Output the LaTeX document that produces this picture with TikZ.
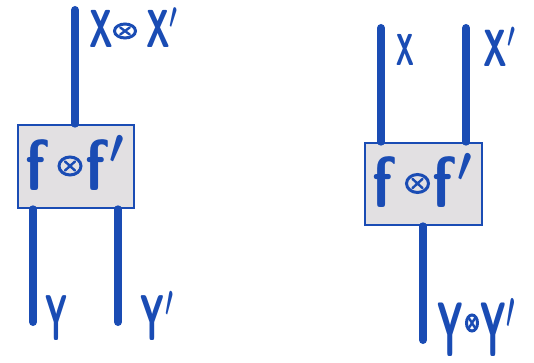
\documentclass[tikz,border=0pt]{standalone}
\usepackage{graphicx}
\definecolor{ink}{RGB}{26,76,180}
\definecolor{boxfill}{RGB}{226,224,226}
\tikzset{
  wire/.style={ink, line width=8pt, line cap=round},
  morph/.style={draw=ink, line width=2.6pt, fill=boxfill, inner sep=0pt},
  lbl/.style={text=ink, inner sep=1pt, font=\fontsize{24}{28}\selectfont\boldmath},
  glyph/.style={text=ink, inner sep=0pt, anchor=base west, font=\fontsize{24}{28}\selectfont\boldmath},
  ring/.style={draw=ink, line width=3pt},
  cross/.style={draw=ink, line width=2.4pt, line cap=round},
}
% stretched sans letters
\newcommand{\hw}[3]{\scalebox{#1}[#2]{$\mathsf{#3}$}}
% hand-drawn tensor sign: centre x, centre y, half width, half height (pt)
\newcommand{\tensor}[4]{%
  \path[ring] (#1,#2) ellipse [x radius=#3pt, y radius=#4pt];
  \path[cross] ({#1-0.45*#3},{#2-0.5*#4}) -- ({#1+0.45*#3},{#2+0.5*#4})
               ({#1-0.45*#3},{#2+0.5*#4}) -- ({#1+0.45*#3},{#2-0.5*#4});}
\begin{document}
\begin{tikzpicture}[x=1pt, y=-1pt]
  \useasboundingbox (0,0) rectangle (534,363);

  % left: f (x) f' with one input wire and two output wires
  \node[morph, minimum width=116pt, minimum height=83pt] (lbox) at (76,166.5) {};
  \node[glyph] (lf1) at (25,190) {\hw{2.4}{2.9}{f}};
  \tensor{70}{166}{11}{9}
  \node[glyph] (lf2) at (85,190) {\hw{2.4}{2.9}{f'}};
  \coordinate (ltop) at (75,10);
  \coordinate (lb1) at (33,322);
  \coordinate (lb2) at (118,322);
  \draw[wire] (ltop) -- (ltop |- lbox.north);
  \draw[wire] (lb1 |- lbox.south) -- (lb1);
  \draw[wire] (lb2 |- lbox.south) -- (lb2);
  \node[glyph] (lx1) at (89,48) {\hw{1.3}{2.15}{X}};
  \tensor{125}{31}{10.5}{7}
  \node[glyph] (lx2) at (146,48) {\hw{1.3}{2.15}{X'}};
  \node[lbl] (ly) at (57,318) {\hw{1.2}{2.6}{Y}};
  \node[lbl] (lyp) at (157,316) {\hw{1.3}{2.6}{Y'}};

  % right: f (x) f' with two input wires and one output wire
  \node[morph, minimum width=117pt, minimum height=82pt] (rbox) at (423.5,184) {};
  \node[glyph] (rf1) at (372.5,207.5) {\hw{2.4}{2.9}{f}};
  \tensor{417.5}{183.5}{11}{9}
  \node[glyph] (rf2) at (432.5,207.5) {\hw{2.4}{2.9}{f'}};
  \coordinate (rt1) at (381,28);
  \coordinate (rt2) at (466,28);
  \coordinate (rbot) at (423,340);
  \draw[wire] (rt1) -- (rt1 |- rbox.north);
  \draw[wire] (rt2) -- (rt2 |- rbox.north);
  \draw[wire] (rbot |- rbox.south) -- (rbot);
  \node[lbl] (rx) at (405,50) {\hw{1}{1.8}{X}};
  \node[lbl] (rxp) at (500,47) {\hw{1.3}{2.1}{X'}};
  \node[glyph] (ry1) at (437,356) {\hw{1.4}{3.1}{Y}};
  \tensor{472}{323}{5.5}{8}
  \node[glyph] (ry2) at (480,356) {\hw{1.4}{3.1}{Y'}};
\end{tikzpicture}
\end{document}
